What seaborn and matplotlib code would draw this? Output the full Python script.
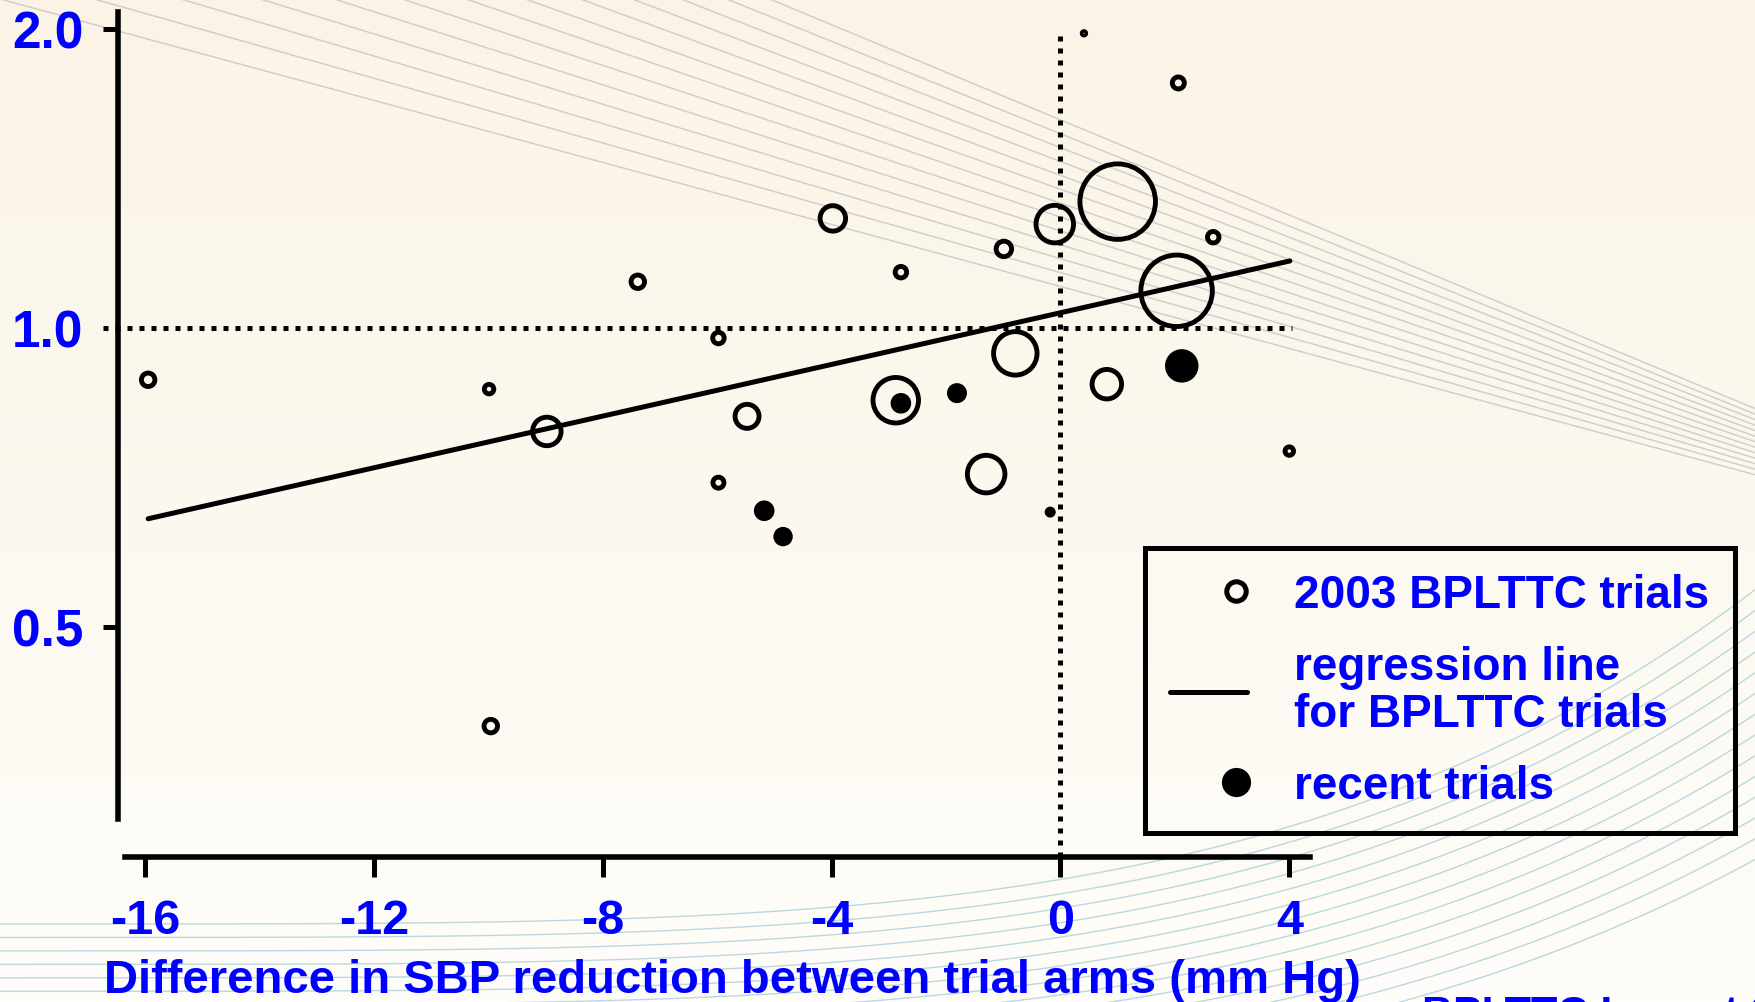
import numpy as np
import pandas as pd
import matplotlib
matplotlib.use("Agg")
import matplotlib.pyplot as plt
import seaborn as sns
from matplotlib.lines import Line2D
from matplotlib.legend_handler import HandlerLine2D
from matplotlib.ticker import NullLocator
from matplotlib.font_manager import FontProperties

# ---------------- data ----------------
# 2003 BPLTTC trials: SBP difference (mm Hg), relative risk, trial weight
bpl_x = [-15.95, -9.99, -8.98, -9.96, -7.39, -5.98, -5.98, -5.48, -3.98, -2.79, -2.88,
         -0.99, -0.79, -1.30, -0.10, 0.41, 1.00, 0.81, 2.06, 2.67, 2.03, 4.00]
bpl_rr = [0.886, 0.867, 0.786, 0.397, 1.112, 0.976, 0.698, 0.814, 1.288, 1.137, 0.845,
          1.200, 0.942, 0.712, 1.271, 1.978, 1.339, 0.877, 1.763, 1.233, 1.089, 0.751]
bpl_w = [1.82, 0.90, 8.12, 1.82, 1.82, 1.32, 1.21, 5.76, 6.50, 1.32, 20.7,
         2.40, 18.9, 14.1, 14.1, 0.12, 57.0, 8.70, 1.44, 1.32, 51.1, 0.72]

# recent trials
rec_x = [-2.79, -1.81, -5.18, -4.85, 2.12, -0.18]
rec_rr = [0.839, 0.859, 0.654, 0.616, 0.915, 0.652]
rec_w = [4.24, 4.00, 4.24, 3.76, 11.2, 1.21]

# regression line for BPLTTC trials (end points)
reg_x = [-15.95, 4.01]
reg_rr = [0.642, 1.167]

xticks = [-16, -12, -8, -4, 0, 4]
yticks = [0.5, 1.0, 2.0]
ytick_labels = ["0.5", "1.0", "2.0"]

x_label = "Difference in SBP reduction between trial arms (mm Hg)"
legend_labels = ["2003 BPLTTC trials", "regression line\nfor BPLTTC trials", "recent trials"]
source_text = "BPLTTC Lancet 2003"

# ---------------- style ----------------
sns.set_theme(style="white")
NARROW = ["Liberation Sans Narrow", "Liberation Sans", "DejaVu Sans"]
WIDE = ["Liberation Sans", "DejaVu Sans"]
plt.rcParams["font.family"] = WIDE
BLUE = "#0000FF"

W, H = 1756, 1003
fig = plt.figure(figsize=(W / 100, H / 100), dpi=100)
top_col = np.array([251, 244, 230]) / 255
bot_col = np.array([254, 253, 249]) / 255
fig.patch.set_facecolor(top_col)

# background: soft gradient with decorative curved lines
bg = fig.add_axes([0, 0, 1, 1], zorder=-5)
grad = np.linspace(0, 1, 256)[:, None, None]
img = top_col[None, None, :] * (1 - grad) + bot_col[None, None, :] * grad
bg.imshow(img, extent=[0, W, H, 0], aspect="auto", interpolation="bilinear")
xs = np.linspace(0, W, 300)
t = xs / W
for i in range(13):
    y0 = -320 + i * 320 / 12
    y1 = 410 + i * 66 / 12
    bg.plot(xs, y0 + (y1 - y0) * t, color="#C3BCC4", lw=1.1, alpha=0.7)
for i in range(14):
    yl = 925 + i * 175 / 13
    yr = 590 + i * 270 / 13
    bg.plot(xs, yl - (yl - yr) * t ** 4, color="#A9CFD8", lw=1.0, alpha=0.8)
bg.set_xlim(0, W)
bg.set_ylim(H, 0)
bg.axis("off")

# main axes
ax = fig.add_axes([118 / W, 1 - 858 / H, (1310 - 118) / W, (858 - 13) / H])
ax.set_facecolor("none")
ax.set_yscale("log")
ax.set_xlim(-16.477, 4.362)
ax.set_ylim(0.2931, 2.0782)

# reference lines
dot = (0, (1, 1.4))
ax.plot([-16.74, 4.05], [1.0, 1.0], ls=dot, lw=3.6, color="black",
        dash_capstyle="butt", clip_on=False, zorder=2)
ax.plot([0, 0], [0.2931, 2.0], ls=dot, lw=3.6, color="black",
        dash_capstyle="butt", zorder=2)

# regression line
sns.lineplot(x=reg_x, y=reg_rr, color="black", lw=3.6, ax=ax,
             solid_capstyle="round", zorder=3)

# trials
df_b = pd.DataFrame({"x": bpl_x, "rr": bpl_rr, "w": bpl_w})
df_r = pd.DataFrame({"x": rec_x, "rr": rec_rr, "w": rec_w})
sns.scatterplot(data=df_b, x="x", y="rr", size="w", sizes=(0, 5184), size_norm=(0, 100),
                facecolors="none", edgecolor="black", linewidth=3.5,
                legend=False, ax=ax, zorder=4)
sns.scatterplot(data=df_r, x="x", y="rr", size="w", sizes=(0, 5184), size_norm=(0, 100),
                color="black", linewidth=0, legend=False, ax=ax, zorder=5)

# axes styling
for s in ["top", "right"]:
    ax.spines[s].set_visible(False)
ax.spines["left"].set_bounds(0.3204, 2.0782)
ax.spines["bottom"].set_bounds(-16.355, 4.362)
for s in ["left", "bottom"]:
    ax.spines[s].set_linewidth(4.0)
    ax.spines[s].set_color("black")

ax.set_xticks(xticks, labels=[str(v) for v in xticks])
ax.set_yticks(yticks, labels=ytick_labels)
ax.yaxis.set_minor_locator(NullLocator())
ax.tick_params(axis="x", direction="out", length=14.4, width=3.6, pad=15,
               labelsize=35, labelcolor=BLUE, color="black", bottom=True)
ax.tick_params(axis="y", direction="out", length=10.8, width=3.6, pad=14,
               labelsize=37, labelcolor=BLUE, color="black", left=True)
for lbl in ax.get_xticklabels():
    lbl.set_fontfamily(NARROW)
    lbl.set_fontweight("bold")
for lbl in ax.get_yticklabels():
    lbl.set_fontfamily(WIDE)
    lbl.set_fontweight("bold")
ax.yaxis.get_major_ticks()[1].tick1line.set_visible(False)
ax.set_ylabel("")

ax.set_xlabel(x_label, fontsize=34, color=BLUE, fontweight="bold", family=NARROW)
ax.xaxis.set_label_coords((732 - 118) / (1310 - 118), (858 - 993) / 845)
ax.xaxis.label.set_verticalalignment("baseline")


# legend: marker-only handles drawn towards the right of the handle box
class HandlerRightMarker(HandlerLine2D):
    def get_xdata(self, legend, xdescent, ydescent, width, height, fontsize):
        xdata = np.array([0.7 * width - xdescent, 1.0 * width - xdescent])
        return xdata, np.array([0.85 * width - xdescent])


h1 = Line2D([], [], ls="none", marker="o", ms=14, mfc="none", mec="black", mew=3.6)
h2 = Line2D([], [], color="black", lw=3.6)
h3 = Line2D([], [], ls="none", marker="o", ms=21, mfc="black", mec="black", mew=0)
leg = ax.legend([h1, h2, h3], legend_labels, loc="upper left",
                bbox_to_anchor=(1145 / W, 1 - 549 / H), bbox_transform=fig.transFigure,
                frameon=True, fancybox=False, edgecolor="black", facecolor="none",
                framealpha=1, borderpad=0.55, labelspacing=0.6, handlelength=1.68,
                handletextpad=1.03, borderaxespad=0,
                prop=FontProperties(family=NARROW, weight="bold", size=33),
                labelcolor=BLUE,
                handler_map={h1: HandlerRightMarker(), h3: HandlerRightMarker()})
leg.get_frame().set_linewidth(3.6)
leg.get_frame().set_edgecolor("black")
for txt in leg.get_texts():
    txt.set_linespacing(1.11)

# source note (cut at the bottom edge, as in the original slide)
fig.text(1422 / W, 1 - 995 / H, source_text, ha="left", va="top", fontsize=31,
         fontweight="bold", family=NARROW, color=BLUE)

fig.savefig("out.png", dpi=100, facecolor=fig.get_facecolor())
